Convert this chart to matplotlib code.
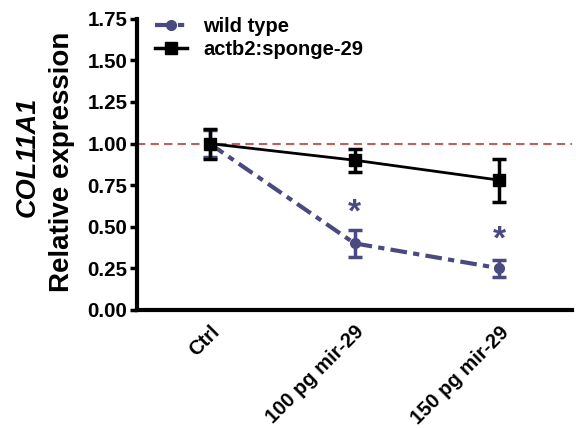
import matplotlib
matplotlib.use('Agg')
import matplotlib.pyplot as plt
from matplotlib.lines import Line2D
import numpy as np

plt.rcParams['font.family'] = ['Liberation Sans', 'DejaVu Sans']
plt.rcParams['font.weight'] = 'bold'

# expression data, mean and error per condition
groups = ['Ctrl', '100 pg mir-29', '150 pg mir-29']
wt_mean = [1.00, 0.40, 0.25]
wt_err = [0.08, 0.08, 0.05]
sponge_mean = [1.00, 0.90, 0.78]
sponge_err = [0.09, 0.07, 0.13]
star_y = [0.58, 0.42]

wt_color = '#4b4a80'
wt_dash = (0, (4, 1.5, 1.5, 1.5))
x = np.arange(len(groups))

fig = plt.figure(figsize=(5.76, 4.28), dpi=100)
ax = fig.add_axes([0.238, 0.276, 0.755, 0.68])

ax.axhline(1.0, color='#c0605a', ls=(0, (4, 2.5)), lw=1.5, zorder=1)

ax.errorbar(x, wt_mean, yerr=wt_err, color=wt_color, lw=3, ls=wt_dash,
            marker='o', ms=7, capsize=5, capthick=2.5, elinewidth=2.5, zorder=3)
ax.errorbar(x, sponge_mean, yerr=sponge_err, color='black', lw=2,
            marker='s', ms=8, capsize=5, capthick=2.5, elinewidth=2.5, zorder=4)

for xi, yi in zip(x[1:], star_y):
    ax.text(xi, yi, '*', color=wt_color, fontsize=24, fontweight='bold',
            ha='center', va='center')

ax.set_xlim(-0.5, 2.5)
ax.set_ylim(0, 1.75)
yt = np.arange(0, 1.76, 0.25)
ax.set_yticks(yt)
ax.set_yticklabels([f'{v:.2f}' for v in yt], fontsize=14.8)
ax.set_xticks(x)
ax.set_xticklabels(groups, rotation=45, ha='right', rotation_mode='anchor', fontsize=14.5)
ax.tick_params(axis='x', length=0, pad=9)
ax.tick_params(axis='y', width=2.5, length=5, pad=2)

for side in ['top', 'right']:
    ax.spines[side].set_visible(False)
for side in ['left', 'bottom']:
    ax.spines[side].set_linewidth(3)

fig.text(62 / 576, 1 - 162 / 428, 'Relative expression', rotation=90, fontsize=20,
         fontweight='bold', ha='center', va='center')
fig.text(28 / 576, 1 - 157 / 428, 'COL11A1', rotation=90, fontsize=19.5,
         fontweight='bold', fontstyle='italic', ha='center', va='center')

handles = [Line2D([], [], color=wt_color, lw=3, ls=wt_dash, marker='o', ms=7),
           Line2D([], [], color='black', lw=2.5, marker='s', ms=8)]
ax.legend(handles, ['wild type', 'actb2:sponge-29'], loc='upper left',
          bbox_to_anchor=(0.0, 1.07), frameon=False, handlelength=1.6,
          handletextpad=0.8, labelspacing=0.2,
          prop={'weight': 'bold', 'size': 14.5})

fig.savefig('out.png', dpi=100)
